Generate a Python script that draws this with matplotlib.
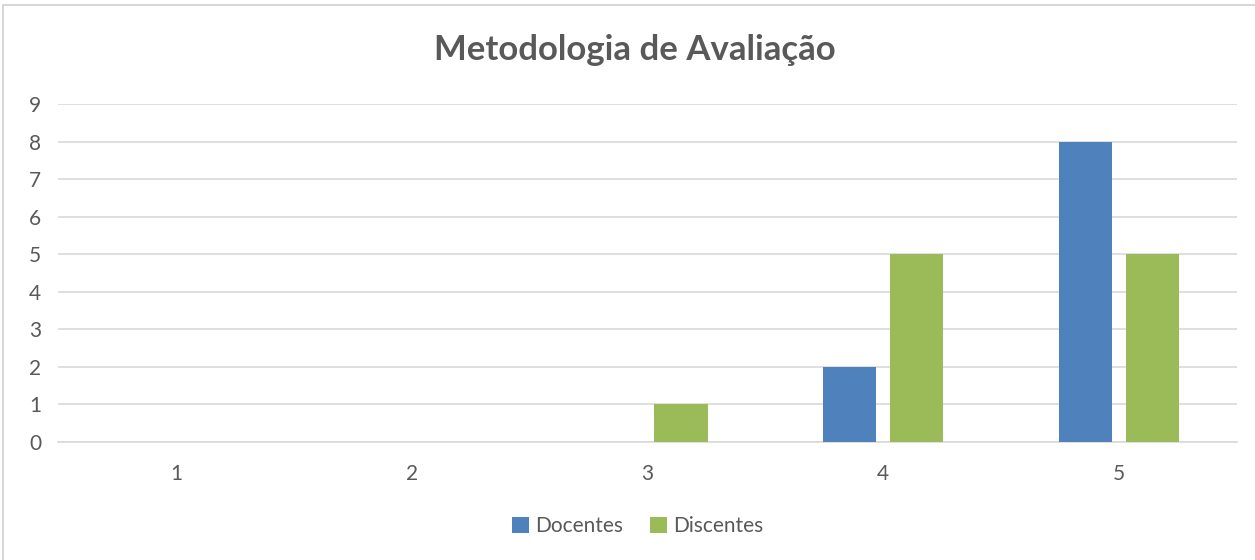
import matplotlib
matplotlib.use("Agg")
import matplotlib.pyplot as plt
from matplotlib.patches import Rectangle
import numpy as np

categories = ["1", "2", "3", "4", "5"]
docentes = [0, 0, 0, 2, 8]
discentes = [0, 0, 1, 5, 5]
series_names = ["Docentes", "Discentes"]
yticks = list(range(0, 10))

plt.rcParams['font.family'] = ['Lato', 'DejaVu Sans']
gray_text = "#595959"
grid_col = "#D9D9D9"

W, H = 1255, 560
fig = plt.figure(figsize=(W/100, H/100), dpi=100)
fig.patches.append(Rectangle((3/W, -0.1), 1.2, 1.1 - 5/H, transform=fig.transFigure,
                             fill=False, edgecolor="#D0D0D0", linewidth=1.2))

ax = fig.add_axes([58/W, 1 - 442/H, (1237-58)/W, (442-104)/H])
x = np.arange(len(categories))
bw = 0.225
off = 0.142
ax.bar(x - off, docentes, bw, color="#4F81BD", label=series_names[0], zorder=3)
ax.bar(x + off, discentes, bw, color="#9BBB59", label=series_names[1], zorder=3)

ax.set_xlim(-0.5, len(categories) - 0.5)
ax.set_ylim(0, 9)
ax.set_yticks(yticks)
ax.set_xticks(x)
ax.set_xticklabels(categories)
ax.yaxis.grid(True, color=grid_col, linewidth=1.2, zorder=0)
for s in ["left", "right", "top"]:
    ax.spines[s].set_visible(False)
ax.spines["bottom"].set_color(grid_col)
ax.spines["bottom"].set_linewidth(1.2)
ax.tick_params(axis="both", length=0, labelsize=15, labelcolor=gray_text)
ax.tick_params(axis="y", pad=12)
ax.tick_params(axis="x", pad=16)

fig.text(635/W, 1 - 50/H, "Metodologia de Avaliação", ha="center", va="center",
         fontsize=25, fontweight="bold", color=gray_text)

fig.legend(loc="center", bbox_to_anchor=(638/W, 1 - 526/H), ncol=2, frameon=False,
           fontsize=15, labelcolor=gray_text, handlelength=0.8, handleheight=0.8,
           handletextpad=0.3, columnspacing=1.3)

fig.savefig("out.png", dpi=100)
